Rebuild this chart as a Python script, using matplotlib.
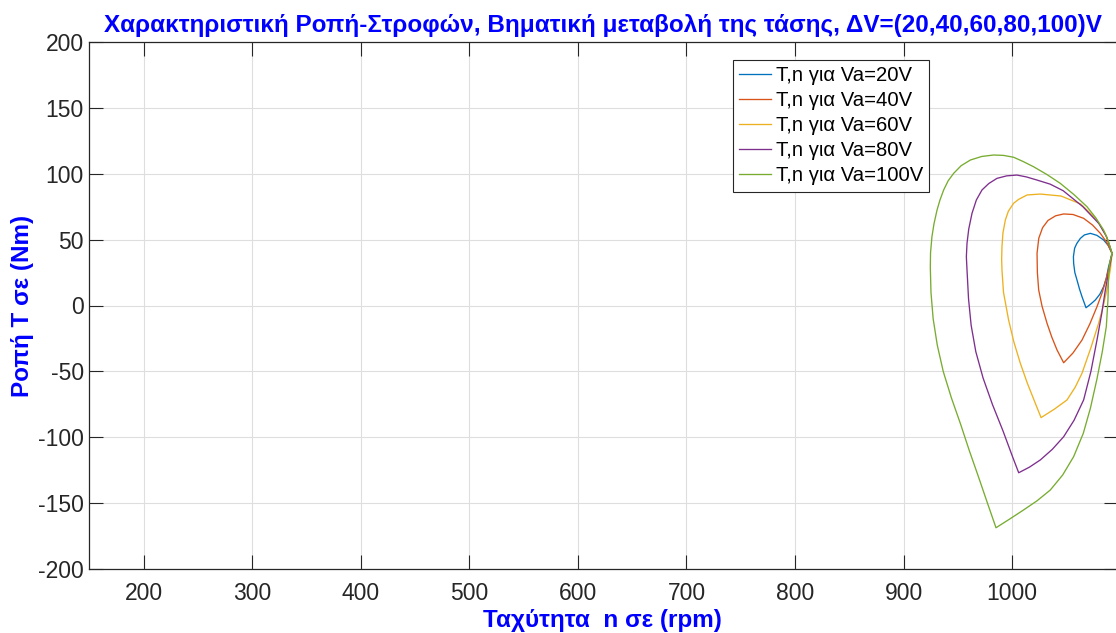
import matplotlib
matplotlib.use("Agg")
import matplotlib.pyplot as plt

# Speed (rpm) / torque (Nm) trajectories for each armature-voltage step
speed_20 = [1092, 1088.5, 1084.2, 1078, 1072, 1066.5, 1062.8, 1059.5, 1057.5, 1056.4,
            1056.6, 1057.7, 1059.7, 1062, 1064.3, 1068, 1072.5, 1076.6, 1080.7,
            1084.2, 1086.8, 1088.8, 1090.6, 1092]
torque_20 = [39.5, 45.5, 49.7, 53.2, 54.7, 53.5, 50.9, 47, 43.4, 37,
             32, 25, 19.3, 12.5, 6.7, -1.7, 1.2, 4.2, 8.5,
             14.3, 21, 29.4, 35, 39.5]

speed_40 = [1092, 1087, 1081.2, 1074, 1065.8, 1056, 1047.4, 1040, 1033, 1028,
            1024.5, 1022.9, 1023.2, 1024.4, 1027.5, 1032.1, 1036.5, 1041.3, 1047.4,
            1056, 1064.3, 1071.5, 1078.1, 1083, 1086.5, 1089.5, 1092]
torque_40 = [39.5, 48, 54.7, 61, 66.1, 69, 69.4, 68, 64.5, 59,
             51, 39.6, 25, 11.8, -0.5, -13.5, -24, -33.7, -43.4,
             -36, -26.2, -14, -0.9, 10, 20, 30, 39.5]

speed_60 = [1092, 1086, 1077, 1063, 1045, 1025.9, 1013.7, 1006, 1001.3, 996.5,
            993.7, 991.5, 990.6, 990.3, 990.6, 992, 996.7, 1001.5, 1007.5, 1014,
            1021.3, 1026.6, 1039, 1050.5, 1058, 1064.3, 1072.5, 1079.6, 1084, 1087.5,
            1090.5, 1092]
torque_60 = [39.5, 54, 66, 77, 83, 84.5, 83.8, 80.5, 77.5, 71.5,
             64.8, 55, 44.6, 35, 26.9, 10, -11, -27.5, -43.8, -59,
             -74.1, -85, -78.5, -71.6, -62, -51.4, -32, -13.5, 0, 13,
             28, 39.5]

speed_80 = [1092, 1087, 1080, 1065, 1047, 1035, 1022.9, 1013, 1004.4, 995,
            986, 978.5, 972.2, 967, 963, 960, 958.4, 957.8, 958.4, 959.8,
            962.2, 966.5, 973.2, 981.8, 991.5, 1000.5, 1006, 1016, 1025.9,
            1037, 1047.4, 1057, 1065.8, 1072.5, 1078.1, 1082.5, 1085.8, 1089, 1092]
torque_80 = [39.5, 52, 62, 75, 87, 92, 95.1, 97.5, 98.9, 98.3,
             96.4, 92.5, 87.6, 80, 69.9, 58, 47.2, 37, 26.9, 5,
             -15, -35, -55, -75, -95, -115, -126.8, -122.5, -117.1,
             -109, -99.5, -87, -71.6, -50, -26.2, -6, 11.8, 26, 39.5]

speed_100 = [1092, 1088.5, 1084.2, 1077, 1068.9, 1057, 1044.3, 1032, 1019.7, 1010,
             1001.3, 992, 982.9, 972, 961.5, 953, 946.1, 941, 936.9, 933.5,
             930.8, 928, 926.1, 924.8, 924.6, 925.2, 927.2, 931, 936.5, 944,
             952.5, 960.5, 969, 977.3, 985.1, 997.5, 1010.5, 1023, 1035.1,
             1046.5, 1056.6, 1065.5, 1072, 1078, 1083, 1086.7, 1088.2, 1088.8, 1090,
             1092]
torque_100 = [39.5, 49, 57.2, 66.5, 74.9, 84, 92.6, 99.3, 105.2, 109.2,
              112.4, 113.8, 114.1, 113, 110.3, 106, 100.2, 94.5, 87.6, 80,
              72.4, 62, 52.2, 40, 29, 10, -10, -30, -50, -70,
              -90, -110, -130, -150, -168.5, -162, -155, -148, -139.9,
              -128.5, -114.6, -96.9, -78, -56, -35, -16, 4, 24.4, 33,
              39.5]

series_labels = ["T,n για Va=20V", "T,n για Va=40V", "T,n για Va=60V",
                 "T,n για Va=80V", "T,n για Va=100V"]
x_ticks = [200, 300, 400, 500, 600, 700, 800, 900, 1000]
y_ticks = [-200, -150, -100, -50, 0, 50, 100, 150, 200]

colors = ["#0072BD", "#D95319", "#EDB120", "#7E2F8E", "#77AC30"]

plt.rcParams['font.family'] = ['Liberation Sans', 'DejaVu Sans']
plt.rcParams['axes.unicode_minus'] = False

fig = plt.figure(figsize=(11.16, 6.33), dpi=100)
W, H = 1116, 633
left_px, right_px, top_px, bottom_px = 89.3, 1117.5, 41.7, 569.3
ax = fig.add_axes([left_px / W, 1 - bottom_px / H,
                   (right_px - left_px) / W, (bottom_px - top_px) / H])

curves = [(speed_20, torque_20), (speed_40, torque_40), (speed_60, torque_60),
          (speed_80, torque_80), (speed_100, torque_100)]
for (n, T), c, lab in zip(curves, colors, series_labels):
    ax.plot(n, T, color=c, linewidth=0.95, label=lab)

ax.set_xlim(150, 1097)
ax.set_ylim(-200, 200)
ax.set_xticks(x_ticks)
ax.set_yticks(y_ticks)
ax.grid(True, color="#dedede", linewidth=0.8)
ax.set_axisbelow(True)
ax.tick_params(direction="in", length=10, width=0.8, top=True, right=True,
               labelsize=16.5, colors="#262626")
ax.tick_params(axis="x", pad=9)
ax.tick_params(axis="y", pad=4)
for s in ax.spines.values():
    s.set_color("#262626")
    s.set_linewidth(0.9)

ax.set_title("Χαρακτηριστική Ροπή-Στροφών, Βηματική μεταβολή της τάσης, ΔV=(20,40,60,80,100)V",
             color="blue", fontweight="bold", fontsize=17.5, pad=7)
ax.set_xlabel("Ταχύτητα  n σε (rpm)", color="blue", fontweight="bold", fontsize=17.5,
              va="center")
ax.set_ylabel("Ροπή T σε (Nm)", color="blue", fontweight="bold", fontsize=17.5,
              va="center")
ax.xaxis.set_label_coords((602 - left_px) / (right_px - left_px),
                          (bottom_px - 620) / (bottom_px - top_px))
ax.yaxis.set_label_coords((23 - left_px) / (right_px - left_px), 0.5)

leg = ax.legend(loc="upper left", bbox_to_anchor=((733 - left_px) / (right_px - left_px),
                                                   1 - (60 - top_px) / (bottom_px - top_px)),
                fontsize=14.6, frameon=True, fancybox=False, framealpha=1,
                edgecolor="#262626", borderpad=0.3, labelspacing=0.3,
                handlelength=1.55, handletextpad=0.25, borderaxespad=0)
leg.get_frame().set_linewidth(0.8)

fig.savefig("out.png", dpi=100)
